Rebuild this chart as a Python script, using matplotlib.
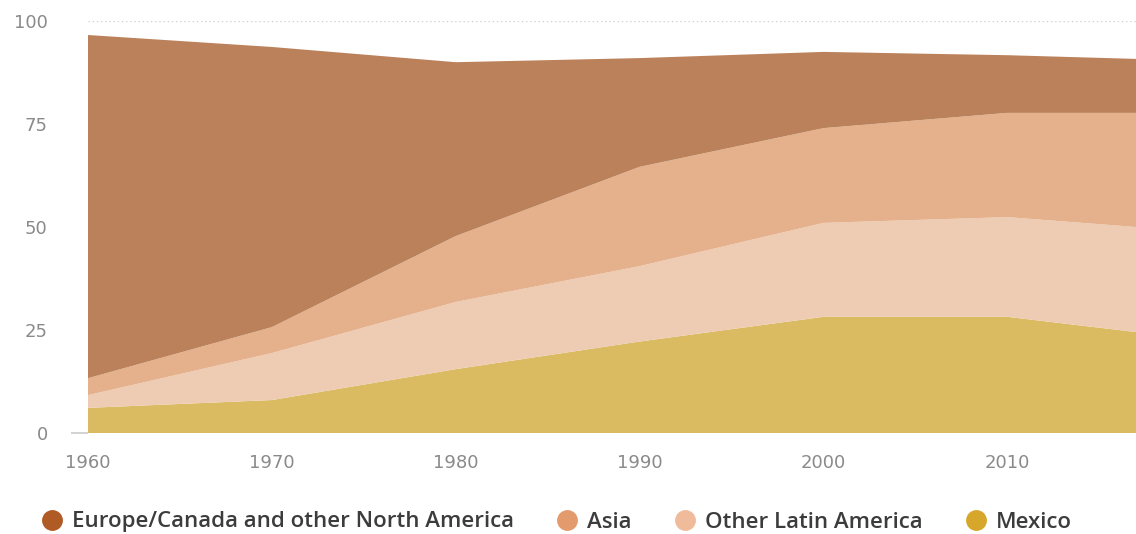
import numpy as np
import matplotlib.pyplot as plt
from matplotlib.lines import Line2D

years = [1960, 1970, 1980, 1990, 2000, 2010, 2017]
mexico = [6.1, 8.0, 15.5, 22.2, 28.2, 28.2, 24.5]
other_latam = [3.1, 11.4, 16.3, 18.3, 22.8, 24.2, 25.5]
asia = [4.1, 6.3, 16.0, 24.1, 23.0, 25.3, 27.7]
europe = [83.3, 68.0, 42.2, 26.4, 18.5, 14.0, 13.1]

labels = ['Europe/Canada and other North America', 'Asia', 'Other Latin America', 'Mexico']
area_colors = ['#bb815a', '#e5b18c', '#eecbb3', '#dbbb62']
dot_colors = ['#b05a26', '#e39a6c', '#f0bb9a', '#d6a72a']

fig = plt.figure(figsize=(11.36, 5.34), dpi=100)
ax = fig.add_axes([88 / 1136, 1 - 433 / 534, 1 - 88 / 1136, (433 - 21) / 534])

# stack bottom to top: Mexico, Other Latin America, Asia, Europe
ax.stackplot(years, mexico, other_latam, asia, europe,
             colors=area_colors[::-1], linewidth=0, zorder=2)

ax.set_xlim(1960, 2017)
ax.set_ylim(0, 100)
ax.set_xticks([1960, 1970, 1980, 1990, 2000, 2010])
ax.set_yticks([0, 25, 50, 75, 100])
ax.set_yticks([0], minor=True)
ax.yaxis.remove_overlapping_locs = False
ax.tick_params(axis='both', which='major', length=0, labelsize=13, labelcolor='#8a8a8a')
ax.tick_params(axis='y', which='major', pad=29)
ax.tick_params(axis='y', which='minor', length=12, color='#cccccc', width=1.2)
ax.tick_params(axis='x', pad=15)
ax.yaxis.grid(True, linestyle=(0, (1, 2)), color='#cfcfcf', linewidth=1, zorder=0)
for s in ax.spines.values():
    s.set_visible(False)

handles = [Line2D([], [], marker='o', linestyle='none', markersize=14,
                  markerfacecolor=c, markeredgecolor=c) for c in dot_colors]
fig.legend(handles, labels, loc='center', bbox_to_anchor=(0.49, 1 - 522 / 534),
           ncol=4, frameon=False, handlelength=1.0, handletextpad=0.4, columnspacing=1.9,
           prop={'size': 16, 'weight': 'semibold', 'family': 'Open Sans'},
           labelcolor='#3c3c3c', borderaxespad=0, borderpad=0)

fig.savefig('out.png', dpi=100)
